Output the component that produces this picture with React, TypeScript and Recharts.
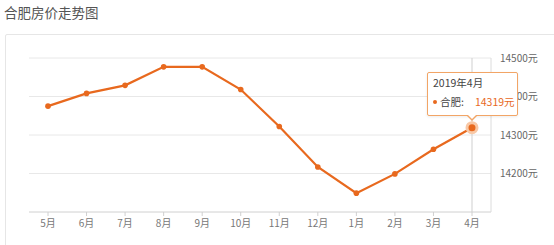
import React from 'react';
import { LineChart, Line, XAxis, YAxis, CartesianGrid, Tooltip } from 'recharts';

const months = ['5月', '6月', '7月', '8月', '9月', '10月', '11月', '12月', '1月', '2月', '3月', '4月'];
const periods = ['2018年5月', '2018年6月', '2018年7月', '2018年8月', '2018年9月', '2018年10月', '2018年11月', '2018年12月', '2019年1月', '2019年2月', '2019年3月', '2019年4月'];
const prices = [14375, 14408, 14429, 14477, 14477, 14418, 14322, 14217, 14149, 14199, 14263, 14319];
const yTicks = [14200, 14300, 14400, 14500];
const cityName = '合肥';
const title = '合肥房价走势图';

const data = months.map((m, i) => ({ month: m, period: periods[i], price: prices[i] }));

const FONT = "'Noto Sans CJK SC', 'DejaVu Sans', sans-serif";
const ORANGE = '#e8691e';

const TipContent = (props: any) => {
  const { active, payload } = props;
  if (!active || !payload || !payload.length) return null;
  const row = payload[0].payload;
  return (
    <div style={{ position: 'relative', width: 90, height: 43, fontFamily: FONT }}>
      <div
        style={{
          position: 'absolute', left: 0, top: 0, width: 89, height: 42,
          border: '1px solid #f2a566', background: '#fff', borderRadius: 2,
          boxShadow: '0 1px 3px rgba(0,0,0,0.08)',
        }}
      />
      <div style={{ position: 'absolute', left: 39, top: 43, width: 0, height: 0,
        borderLeft: '6px solid transparent', borderRight: '6px solid transparent', borderTop: '6px solid #f2a566' }} />
      <div style={{ position: 'absolute', left: 40, top: 42, width: 0, height: 0,
        borderLeft: '5px solid transparent', borderRight: '5px solid transparent', borderTop: '5px solid #fff' }} />
      <div style={{ position: 'absolute', left: 6, top: 4, fontSize: 10.5, lineHeight: '14px', color: '#444', whiteSpace: 'nowrap' }}>
        {row.period}
      </div>
      <div style={{ position: 'absolute', left: 6, top: 23, fontSize: 10.5, lineHeight: '14px', color: '#444', whiteSpace: 'nowrap', display: 'flex', alignItems: 'center' }}>
        <span style={{ display: 'inline-block', width: 4, height: 4, borderRadius: 2, background: ORANGE, marginRight: 3 }} />
        <span>{cityName}:</span>
        <span style={{ color: ORANGE, marginLeft: 11 }}>{row.price}元</span>
      </div>
    </div>
  );
};

export default function App() {
  return (
    <div style={{ position: 'fixed', left: 0, top: 0, width: 554, height: 245, background: '#fff', overflow: 'hidden' }}>
      <div style={{ position: 'absolute', left: 4, top: 4, fontSize: 13.5, lineHeight: '16px', color: '#555', fontFamily: FONT }}>
        {title}
      </div>
      <div style={{ position: 'absolute', left: 5, top: 34, width: 620, height: 260, border: '1px solid #e6e6e6', borderRadius: 2 }} />
      <div style={{ position: 'absolute', left: 0, top: 0 }}>
        <LineChart width={554} height={245} data={data} margin={{ top: 58, right: 0, bottom: 0, left: 29 }}>
          <CartesianGrid horizontal vertical={false} stroke="#e8e8e8" />
          <XAxis
            dataKey="month"
            interval={0}
            padding={{ left: 19, right: 19 }}
            height={33}
            axisLine={{ stroke: '#dcdcdc' }}
            tickLine={{ stroke: '#d0d0d0' }}
            tickSize={4}
            tickMargin={4}
            tick={{ fontSize: 10, fill: '#777', fontFamily: FONT }}
          />
          <YAxis
            orientation="right"
            domain={[14100, 14500]}
            ticks={yTicks}
            width={63}
            axisLine={{ stroke: '#dcdcdc' }}
            tickLine={false}
            tickSize={0}
            tickMargin={9}
            tickFormatter={(v: number) => `${v}元`}
            tick={{ fontSize: 10, fill: '#666', fontFamily: FONT, textAnchor: 'start' }}
          />
          <Tooltip
            defaultIndex={11}
            content={<TipContent />}
            position={{ x: 427, y: 72 }}
            cursor={{ stroke: '#cfcfcf', strokeWidth: 1 }}
            isAnimationActive={false}
            wrapperStyle={{ outline: 'none' }}
          />
          <Line
            type="linear"
            dataKey="price"
            stroke={ORANGE}
            strokeWidth={2.2}
            dot={{ r: 2.8, fill: ORANGE, stroke: ORANGE, strokeWidth: 0 }}
            activeDot={{ r: 5, fill: ORANGE, stroke: '#f8c8a6', strokeWidth: 3 }}
            isAnimationActive={false}
          />
        </LineChart>
      </div>
    </div>
  );
}
